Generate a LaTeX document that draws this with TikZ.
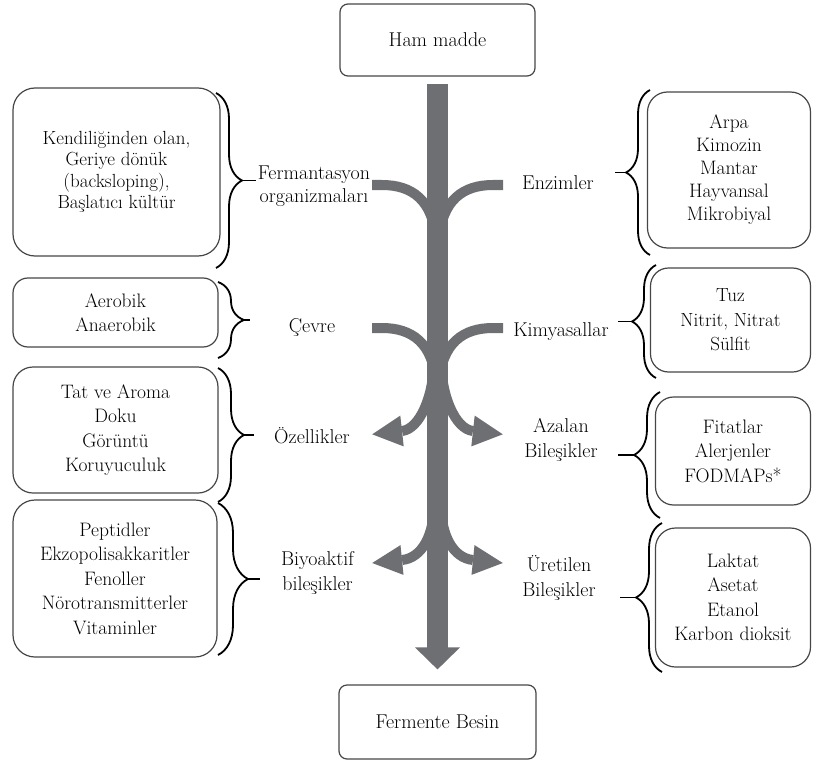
\documentclass[tikz,border=0pt]{standalone}
\usepackage{fontspec}
\usetikzlibrary{decorations.pathreplacing,calc}
\definecolor{arrowgray}{RGB}{110,111,114}
\definecolor{boxline}{RGB}{70,70,70}
\begin{document}
\begin{tikzpicture}[x=1pt,y=-1pt,
  box/.style={draw=boxline, line width=1.2pt, rounded corners=#1, align=center, inner sep=0pt, font=\rmfamily\fontsize{19.5}{24.5}\selectfont},
  box/.default=20pt,
  lbl/.style={align=center, inner sep=0pt, font=\rmfamily\fontsize{20}{24.5}\selectfont},
  brc/.style={draw=black, line width=1.8pt, decorate, decoration={brace, amplitude=#1}},
  brc/.default=26pt,
  stub/.style={draw=black, line width=1.8pt},
  band/.style={draw=arrowgray, line width=10pt},
  head/.style={fill=arrowgray, draw=none},
]
\useasboundingbox (0,0) rectangle (813,762);

% top and bottom boxes
\node[box=8pt, minimum width=195pt, minimum height=72pt, font=\rmfamily\fontsize{20}{24.5}\selectfont] (top) at (437.5,40) {Ham madde};
\node[box=8pt, minimum width=197pt, minimum height=74pt, font=\rmfamily\fontsize{20}{24.5}\selectfont] (bot) at (437.5,722) {Fermente Besin};

% central arrow
\coordinate (s0) at ([yshift=-7pt]top.south);
\coordinate (s1) at ([yshift=15pt]bot.north);
\fill[arrowgray] ($(s0)+(-10.5,0)$) rectangle ($(s1)+(10.5,-21)$);
\fill[arrowgray] ($(s1)+(-22.5,-22)$) -- ($(s1)+(22.5,-22)$) -- (s1) -- cycle;

% inflow arms
\draw[band] (372,185) -- (382,185) .. controls (412,185) and (433,200) .. (436,240);
\draw[band] (503,185) -- (493,185) .. controls (463,185) and (442,200) .. (439,240);
\draw[band] (372,328) -- (382,328) .. controls (412,328) and (433,343) .. (436,383);
\draw[band] (503,328) -- (493,328) .. controls (463,328) and (442,343) .. (439,383);

% outflow arrows
\draw[band] (434,360) .. controls (434,395) and (420,429) .. (402,431);
\fill[head] (372.2,434.3) -- (403.7,446.4) -- (400.3,415.6) -- cycle;
\draw[band] (441,360) .. controls (441,395) and (455,429) .. (473,431);
\fill[head] (502.8,434.3) -- (471.3,446.4) -- (474.7,415.6) -- cycle;
\draw[band] (434,505) .. controls (434,535) and (422,558) .. (402,560);
\fill[head] (372.2,563) -- (403.5,574.9) -- (400.5,545.1) -- cycle;
\draw[band] (441,505) .. controls (441,535) and (453,558) .. (473,560);
\fill[head] (502.8,563) -- (471.5,574.9) -- (474.5,545.1) -- cycle;

% labels
\node[lbl, font=\rmfamily\fontsize{20}{22.5}\selectfont] (lf) at (314,186) {Fermantasyon\\organizmaları};
\node[lbl] (lc) at (312,328) {Çevre};
\node[lbl] (lo) at (312,436) {Özellikler};
\node[lbl] (lb) at (317.5,573) {Biyoaktif\\bileşikler};
\node[lbl] (re) at (558,183) {Enzimler};
\node[lbl] (rk) at (561,332) {Kimyasallar};
\node[lbl] (ra) at (561,440) {Azalan\\Bileşikler};
\node[lbl] (ru) at (559,578) {Üretilen\\Bileşikler};

% left boxes
\node[box=22pt, minimum width=207pt, minimum height=168pt, font=\rmfamily\fontsize{19}{21.5}\selectfont] (L1) at (116.5,172) {Kendiliğinden olan,\\Geriye dönük\\(backsloping),\\Başlatıcı kültür};
\node[box=15pt, minimum width=205pt, minimum height=69pt] (L2) at (115.5,312.5) {Aerobik\\Anaerobik};
\node[box=20pt, minimum width=205pt, minimum height=126pt] (L3) at (115.5,430) {Tat ve Aroma\\Doku\\Görüntü\\Koruyuculuk};
\node[box=22pt, minimum width=204pt, minimum height=157pt] (L4) at (115,578.5) {Peptidler\\Ekzopolisakkaritler\\Fenoller\\Nörotransmitterler\\Vitaminler};

% right boxes
\node[box=20pt, minimum width=163pt, minimum height=156pt, font=\rmfamily\fontsize{19.5}{23}\selectfont] (R1) at (729,170) {Arpa\\Kimozin\\Mantar\\Hayvansal\\Mikrobiyal};
\node[box=18pt, minimum width=160pt, minimum height=104pt, font=\rmfamily\fontsize{19}{24.5}\selectfont] (R2) at (730.5,320) {Tuz\\Nitrit, Nitrat\\Sülfit};
\node[box=18pt, minimum width=155pt, minimum height=108pt] (R3) at (733,451) {Fitatlar\\Alerjenler\\FODMAPs*};
\node[box=20pt, minimum width=155pt, minimum height=139pt] (R4) at (733,597.5) {Laktat\\Asetat\\Etanol\\Karbon dioksit};

% left braces
\draw[brc] (216,93) -- (216,268);
\draw[stub] (242,180.5) -- (256,180.5);
\draw[brc] (218,282) -- (218,358);
\draw[stub] (244,320) -- (250,320);
\draw[brc] (218,368) -- (218,502);
\draw[stub] (244,435) -- (254,435);
\draw[brc=30pt] (218,503) -- (218,655);
\draw[stub] (248,579) -- (260,579);

% right braces
\draw[brc=24pt] (650,255) -- (650,90);
\draw[stub] (626,172.5) -- (615,172.5);
\draw[brc=24pt] (656,378) -- (656,265);
\draw[stub] (632,321.5) -- (618,321.5);
\draw[brc] (660,518) -- (660,392);
\draw[stub] (634,455) -- (618,455);
\draw[brc] (662,672) -- (662,523);
\draw[stub] (636,597.5) -- (620,597.5);
\end{tikzpicture}
\end{document}
